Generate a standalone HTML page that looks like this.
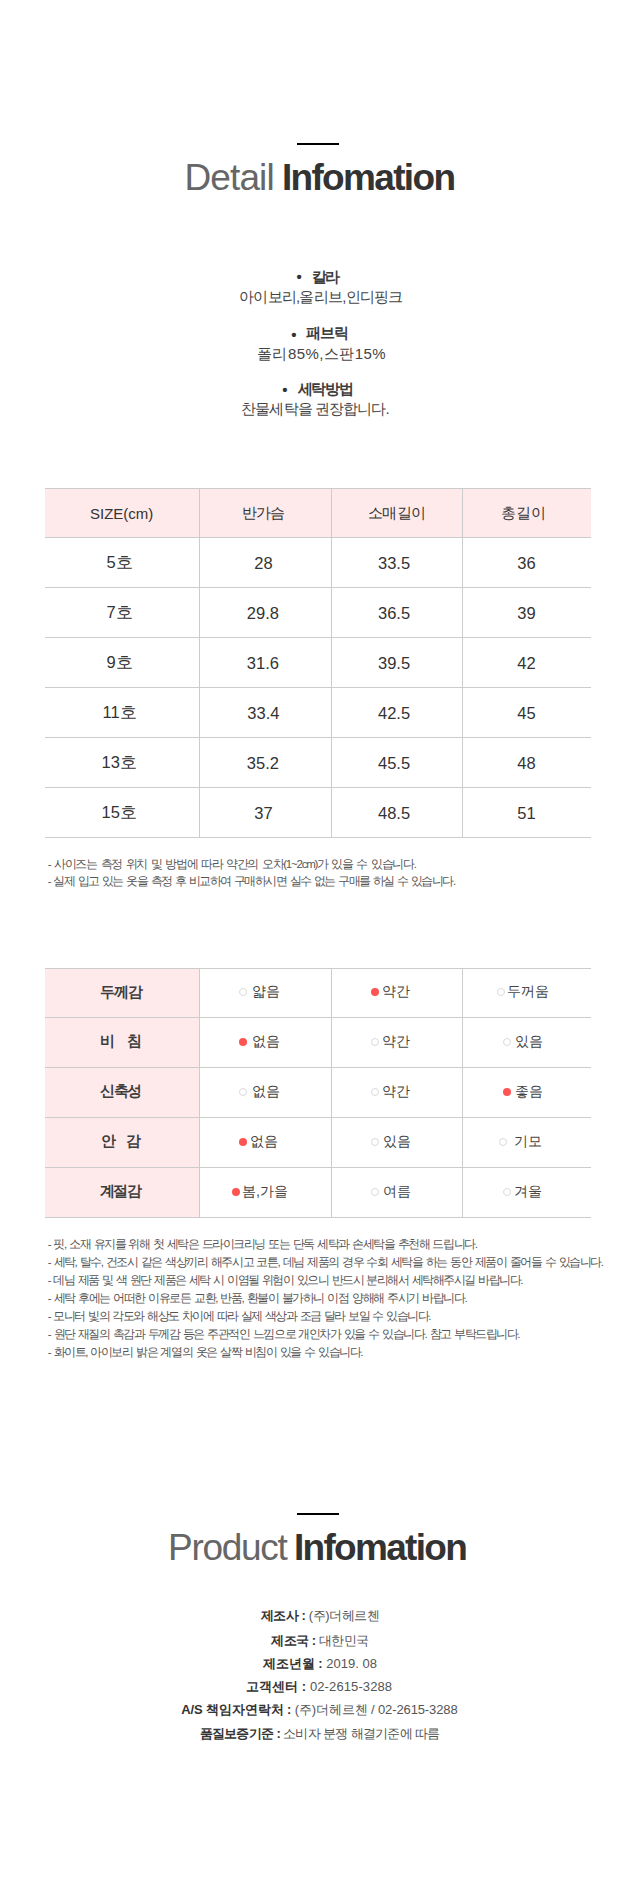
<!DOCTYPE html>
<html lang="ko">
<head>
<meta charset="utf-8">
<style>
*{margin:0;padding:0;box-sizing:border-box}
html,body{width:640px;height:1900px;background:#fff;overflow:hidden}
body{position:relative;font-family:"Liberation Sans",sans-serif;color:#333}
.t{position:absolute;white-space:nowrap;display:block}
.bar{position:absolute;left:297px;width:42px;height:2px;background:#000}
.ttl{font-size:37px;line-height:42px}
.l{font-weight:normal;color:#666}
.b{font-weight:bold;color:#333}
.bd{font-size:15px;line-height:20px;font-weight:bold;color:#333}
.bt{font-size:15px;line-height:20px;font-weight:bold;color:#3d3d3d}
.bv{font-size:15px;line-height:20px;color:#444}
.hl{position:absolute;left:45px;width:546px;height:1px;background:#cccccc}
.vl{position:absolute;width:1px;background:#cccccc}
.pk{position:absolute;background:#feeaea}
.cell{font-size:15px;line-height:20px;color:#333}
.num{font-size:16.5px}
.lab{font-weight:bold;color:#3d3d3d}
.val{color:#444;font-size:14px}
.note{font-size:11.5px;line-height:18px;color:#555;word-spacing:1.6px}
.dot{position:absolute;width:8px;height:8px;border-radius:50%}
.on{background:#ff5454}
.off{border:1px solid #dadada;background:#fff}
.pi{font-size:13px;line-height:20px;color:#555}
.pi b{color:#333}
</style>
</head>
<body>
<div class="bar" style="top:143px"></div>
<div class="bar" style="top:1513px"></div>
<div class="pk" style="left:45px;top:489px;width:546px;height:48px"></div>
<div class="hl" style="top:488px"></div>
<div class="hl" style="top:537px"></div>
<div class="hl" style="top:587px"></div>
<div class="hl" style="top:637px"></div>
<div class="hl" style="top:687px"></div>
<div class="hl" style="top:737px"></div>
<div class="hl" style="top:787px"></div>
<div class="hl" style="top:837px"></div>
<div class="vl" style="left:199px;top:488px;height:350px"></div>
<div class="vl" style="left:331px;top:488px;height:350px"></div>
<div class="vl" style="left:462px;top:488px;height:350px"></div>
<div class="pk" style="left:45px;top:969px;width:154px;height:248px"></div>
<div class="hl" style="top:968px"></div>
<div class="hl" style="top:1017px"></div>
<div class="hl" style="top:1067px"></div>
<div class="hl" style="top:1117px"></div>
<div class="hl" style="top:1167px"></div>
<div class="hl" style="top:1217px"></div>
<div class="vl" style="left:199px;top:968px;height:250px"></div>
<div class="vl" style="left:331px;top:968px;height:250px"></div>
<div class="vl" style="left:462px;top:968px;height:250px"></div>
<div class="dot off" style="left:239px;top:988px"></div>
<div class="dot on" style="left:371px;top:988px"></div>
<div class="dot off" style="left:497px;top:988px"></div>
<div class="dot on" style="left:239px;top:1038px"></div>
<div class="dot off" style="left:371px;top:1038px"></div>
<div class="dot off" style="left:503px;top:1038px"></div>
<div class="dot off" style="left:239px;top:1088px"></div>
<div class="dot off" style="left:371px;top:1088px"></div>
<div class="dot on" style="left:503px;top:1088px"></div>
<div class="dot on" style="left:239px;top:1138px"></div>
<div class="dot off" style="left:371px;top:1138px"></div>
<div class="dot off" style="left:499px;top:1138px"></div>
<div class="dot on" style="left:232px;top:1188px"></div>
<div class="dot off" style="left:371px;top:1188px"></div>
<div class="dot off" style="left:503px;top:1188px"></div>
<div id="h1a" class="t ttl l" style="left:184.50px;top:157.10px;letter-spacing:-0.900px">Detail</div>
<div id="h1b" class="t ttl b" style="left:281.90px;top:157.10px;letter-spacing:-1.660px">Infomation</div>
<div id="h2a" class="t ttl l" style="left:168.10px;top:1527.10px;letter-spacing:-1.320px">Product</div>
<div id="h2b" class="t ttl b" style="left:293.90px;top:1527.10px;letter-spacing:-1.680px">Infomation</div>
<div id="b1d" class="t bd" style="left:296.60px;top:267.40px">•</div>
<div id="b1t" class="t bt" style="left:311.50px;top:266.80px;letter-spacing:-1.080px">칼라</div>
<div id="b1v" class="t bv" style="left:239.10px;top:286.65px;letter-spacing:-0.765px">아이보리,올리브,인디핑크</div>
<div id="b2d" class="t bd" style="left:291.25px;top:324.50px">•</div>
<div id="b2t" class="t bt" style="left:306.25px;top:323.00px;letter-spacing:-0.900px">패브릭</div>
<div id="b2v" class="t bv" style="left:257.00px;top:343.70px;letter-spacing:0.450px">폴리85%,스판15%</div>
<div id="b3d" class="t bd" style="left:282.30px;top:380.40px">•</div>
<div id="b3t" class="t bt" style="left:297.50px;top:379.00px;letter-spacing:-1.020px">세탁방법</div>
<div id="b3v" class="t bv" style="left:241.30px;top:398.50px;letter-spacing:-0.900px">찬물세탁을 권장합니다.</div>
<div id="th0" class="t cell" style="left:90.00px;top:503.70px">SIZE(cm)</div>
<div id="th1" class="t cell" style="left:242.30px;top:503.30px;letter-spacing:-0.900px">반가슴</div>
<div id="th2" class="t cell" style="left:367.75px;top:503.30px;letter-spacing:-0.600px">소매길이</div>
<div id="th3" class="t cell" style="left:501.30px;top:502.90px">총길이</div>
<div id="t00" class="t cell num" style="left:106.50px;top:552.20px">5호</div>
<div id="t01" class="t cell num" style="left:254.30px;top:553.20px">28</div>
<div id="t02" class="t cell num" style="left:378.00px;top:553.20px">33.5</div>
<div id="t03" class="t cell num" style="left:517.30px;top:553.20px">36</div>
<div id="t10" class="t cell num" style="left:106.50px;top:602.20px">7호</div>
<div id="t11" class="t cell num" style="left:246.80px;top:603.20px">29.8</div>
<div id="t12" class="t cell num" style="left:378.00px;top:603.20px">36.5</div>
<div id="t13" class="t cell num" style="left:517.30px;top:603.20px">39</div>
<div id="t20" class="t cell num" style="left:106.50px;top:652.20px">9호</div>
<div id="t21" class="t cell num" style="left:246.80px;top:653.20px">31.6</div>
<div id="t22" class="t cell num" style="left:378.00px;top:653.20px">39.5</div>
<div id="t23" class="t cell num" style="left:517.30px;top:653.20px">42</div>
<div id="t30" class="t cell num" style="left:102.50px;top:702.20px">11호</div>
<div id="t31" class="t cell num" style="left:247.30px;top:703.20px">33.4</div>
<div id="t32" class="t cell num" style="left:378.00px;top:703.20px">42.5</div>
<div id="t33" class="t cell num" style="left:517.30px;top:703.20px">45</div>
<div id="t40" class="t cell num" style="left:101.50px;top:752.20px">13호</div>
<div id="t41" class="t cell num" style="left:246.80px;top:753.20px">35.2</div>
<div id="t42" class="t cell num" style="left:378.00px;top:753.20px">45.5</div>
<div id="t43" class="t cell num" style="left:517.30px;top:753.20px">48</div>
<div id="t50" class="t cell num" style="left:101.50px;top:802.20px">15호</div>
<div id="t51" class="t cell num" style="left:254.30px;top:803.20px">37</div>
<div id="t52" class="t cell num" style="left:378.00px;top:803.20px">48.5</div>
<div id="t53" class="t cell num" style="left:517.30px;top:803.20px">51</div>
<div id="l0" class="t cell lab" style="left:100.10px;top:981.50px;letter-spacing:-0.990px">두께감</div>
<div id="l1" class="t cell lab" style="left:100.00px;top:1031.00px;letter-spacing:-0.045px">비&nbsp;&nbsp;&nbsp;침</div>
<div id="l2" class="t cell lab" style="left:99.70px;top:1081.00px;letter-spacing:-1.170px">신축성</div>
<div id="l3" class="t cell lab" style="left:100.50px;top:1131.00px;letter-spacing:-0.540px">안&nbsp;&nbsp;&nbsp;감</div>
<div id="l4" class="t cell lab" style="left:99.70px;top:1180.50px;letter-spacing:-1.350px">계절감</div>
<div id="v00" class="t cell val" style="left:251.60px;top:981.00px">얇음</div>
<div id="v01" class="t cell val" style="left:381.50px;top:981.00px">약간</div>
<div id="v02" class="t cell val" style="left:507.20px;top:981.00px">두꺼움</div>
<div id="v10" class="t cell val" style="left:251.60px;top:1030.50px">없음</div>
<div id="v11" class="t cell val" style="left:381.50px;top:1030.50px">약간</div>
<div id="v12" class="t cell val" style="left:514.70px;top:1030.50px">있음</div>
<div id="v20" class="t cell val" style="left:251.80px;top:1080.50px">없음</div>
<div id="v21" class="t cell val" style="left:381.50px;top:1080.50px">약간</div>
<div id="v22" class="t cell val" style="left:514.70px;top:1080.50px">좋음</div>
<div id="v30" class="t cell val" style="left:249.80px;top:1130.50px">없음</div>
<div id="v31" class="t cell val" style="left:382.50px;top:1130.50px">있음</div>
<div id="v32" class="t cell val" style="left:514.10px;top:1130.50px">기모</div>
<div id="v40" class="t cell val" style="left:242.10px;top:1180.50px">봄,가을</div>
<div id="v41" class="t cell val" style="left:382.50px;top:1180.50px">여름</div>
<div id="v42" class="t cell val" style="left:513.70px;top:1180.50px">겨울</div>
<div id="n0" class="t note" style="left:47.80px;top:855.10px;letter-spacing:-1.240px">- 사이즈는 측정 위치 및 방법에 따라 약간의 오차(1~2cm)가 있을 수 있습니다.</div>
<div id="n1" class="t note" style="left:47.80px;top:872.00px;letter-spacing:-1.506px">- 실제 입고 있는 옷을 측정 후 비교하여 구매하시면 실수 없는 구매를 하실 수 있습니다.</div>
<div id="m0" class="t note" style="left:47.80px;top:1234.50px;letter-spacing:-1.461px">- 핏, 소재 유지를 위해 첫 세탁은 드라이크리닝 또는 단독 세탁과 손세탁을 추천해 드립니다.</div>
<div id="m1" class="t note" style="left:47.80px;top:1252.50px;letter-spacing:-1.451px">- 세탁, 탈수, 건조시 같은 색상끼리 해주시고 코튼, 데님 제품의 경우 수회 세탁을 하는 동안 제품이 줄어들 수 있습니다.</div>
<div id="m2" class="t note" style="left:47.80px;top:1270.50px;letter-spacing:-1.488px">- 데님 제품 및 색 원단 제품은 세탁 시 이염될 위험이 있으니 반드시 분리해서 세탁해주시길 바랍니다.</div>
<div id="m3" class="t note" style="left:47.80px;top:1288.50px;letter-spacing:-1.422px">- 세탁 후에는 어떠한 이유로든 교환, 반품, 환불이 불가하니 이점 양해해 주시기 바랍니다.</div>
<div id="m4" class="t note" style="left:47.80px;top:1306.50px;letter-spacing:-1.518px">- 모니터 빛의 각도와 해상도 차이에 따라 실제 색상과 조금 달라 보일 수 있습니다.</div>
<div id="m5" class="t note" style="left:47.80px;top:1324.50px;letter-spacing:-1.453px">- 원단 재질의 촉감과 두께감 등은 주관적인 느낌으로 개인차가 있을 수 있습니다. 참고 부탁드립니다.</div>
<div id="m6" class="t note" style="left:47.80px;top:1342.50px;letter-spacing:-1.435px">- 화이트, 아이보리 밝은 계열의 옷은 살짝 비침이 있을 수 있습니다.</div>
<div id="p0" class="t pi" style="left:260.50px;top:1606.00px;letter-spacing:-0.405px"><b>제조사 :</b> (주)더헤르첸</div>
<div id="p1" class="t pi" style="left:271.20px;top:1630.70px;letter-spacing:-0.520px"><b>제조국 :</b> 대한민국</div>
<div id="p2" class="t pi" style="left:262.60px;top:1654.20px;letter-spacing:0.013px"><b>제조년월 :</b> 2019. 08</div>
<div id="p3" class="t pi" style="left:245.60px;top:1677.00px;letter-spacing:0.110px"><b>고객센터 :</b> 02-2615-3288</div>
<div id="p4" class="t pi" style="left:181.30px;top:1699.50px;letter-spacing:-0.116px"><b>A/S 책임자연락처 :</b> (주)더헤르첸 / 02-2615-3288</div>
<div id="p5" class="t pi" style="left:199.50px;top:1724.00px;letter-spacing:-0.673px"><b>품질보증기준 :</b> 소비자 분쟁 해결기준에 따름</div>
</body>
</html>
